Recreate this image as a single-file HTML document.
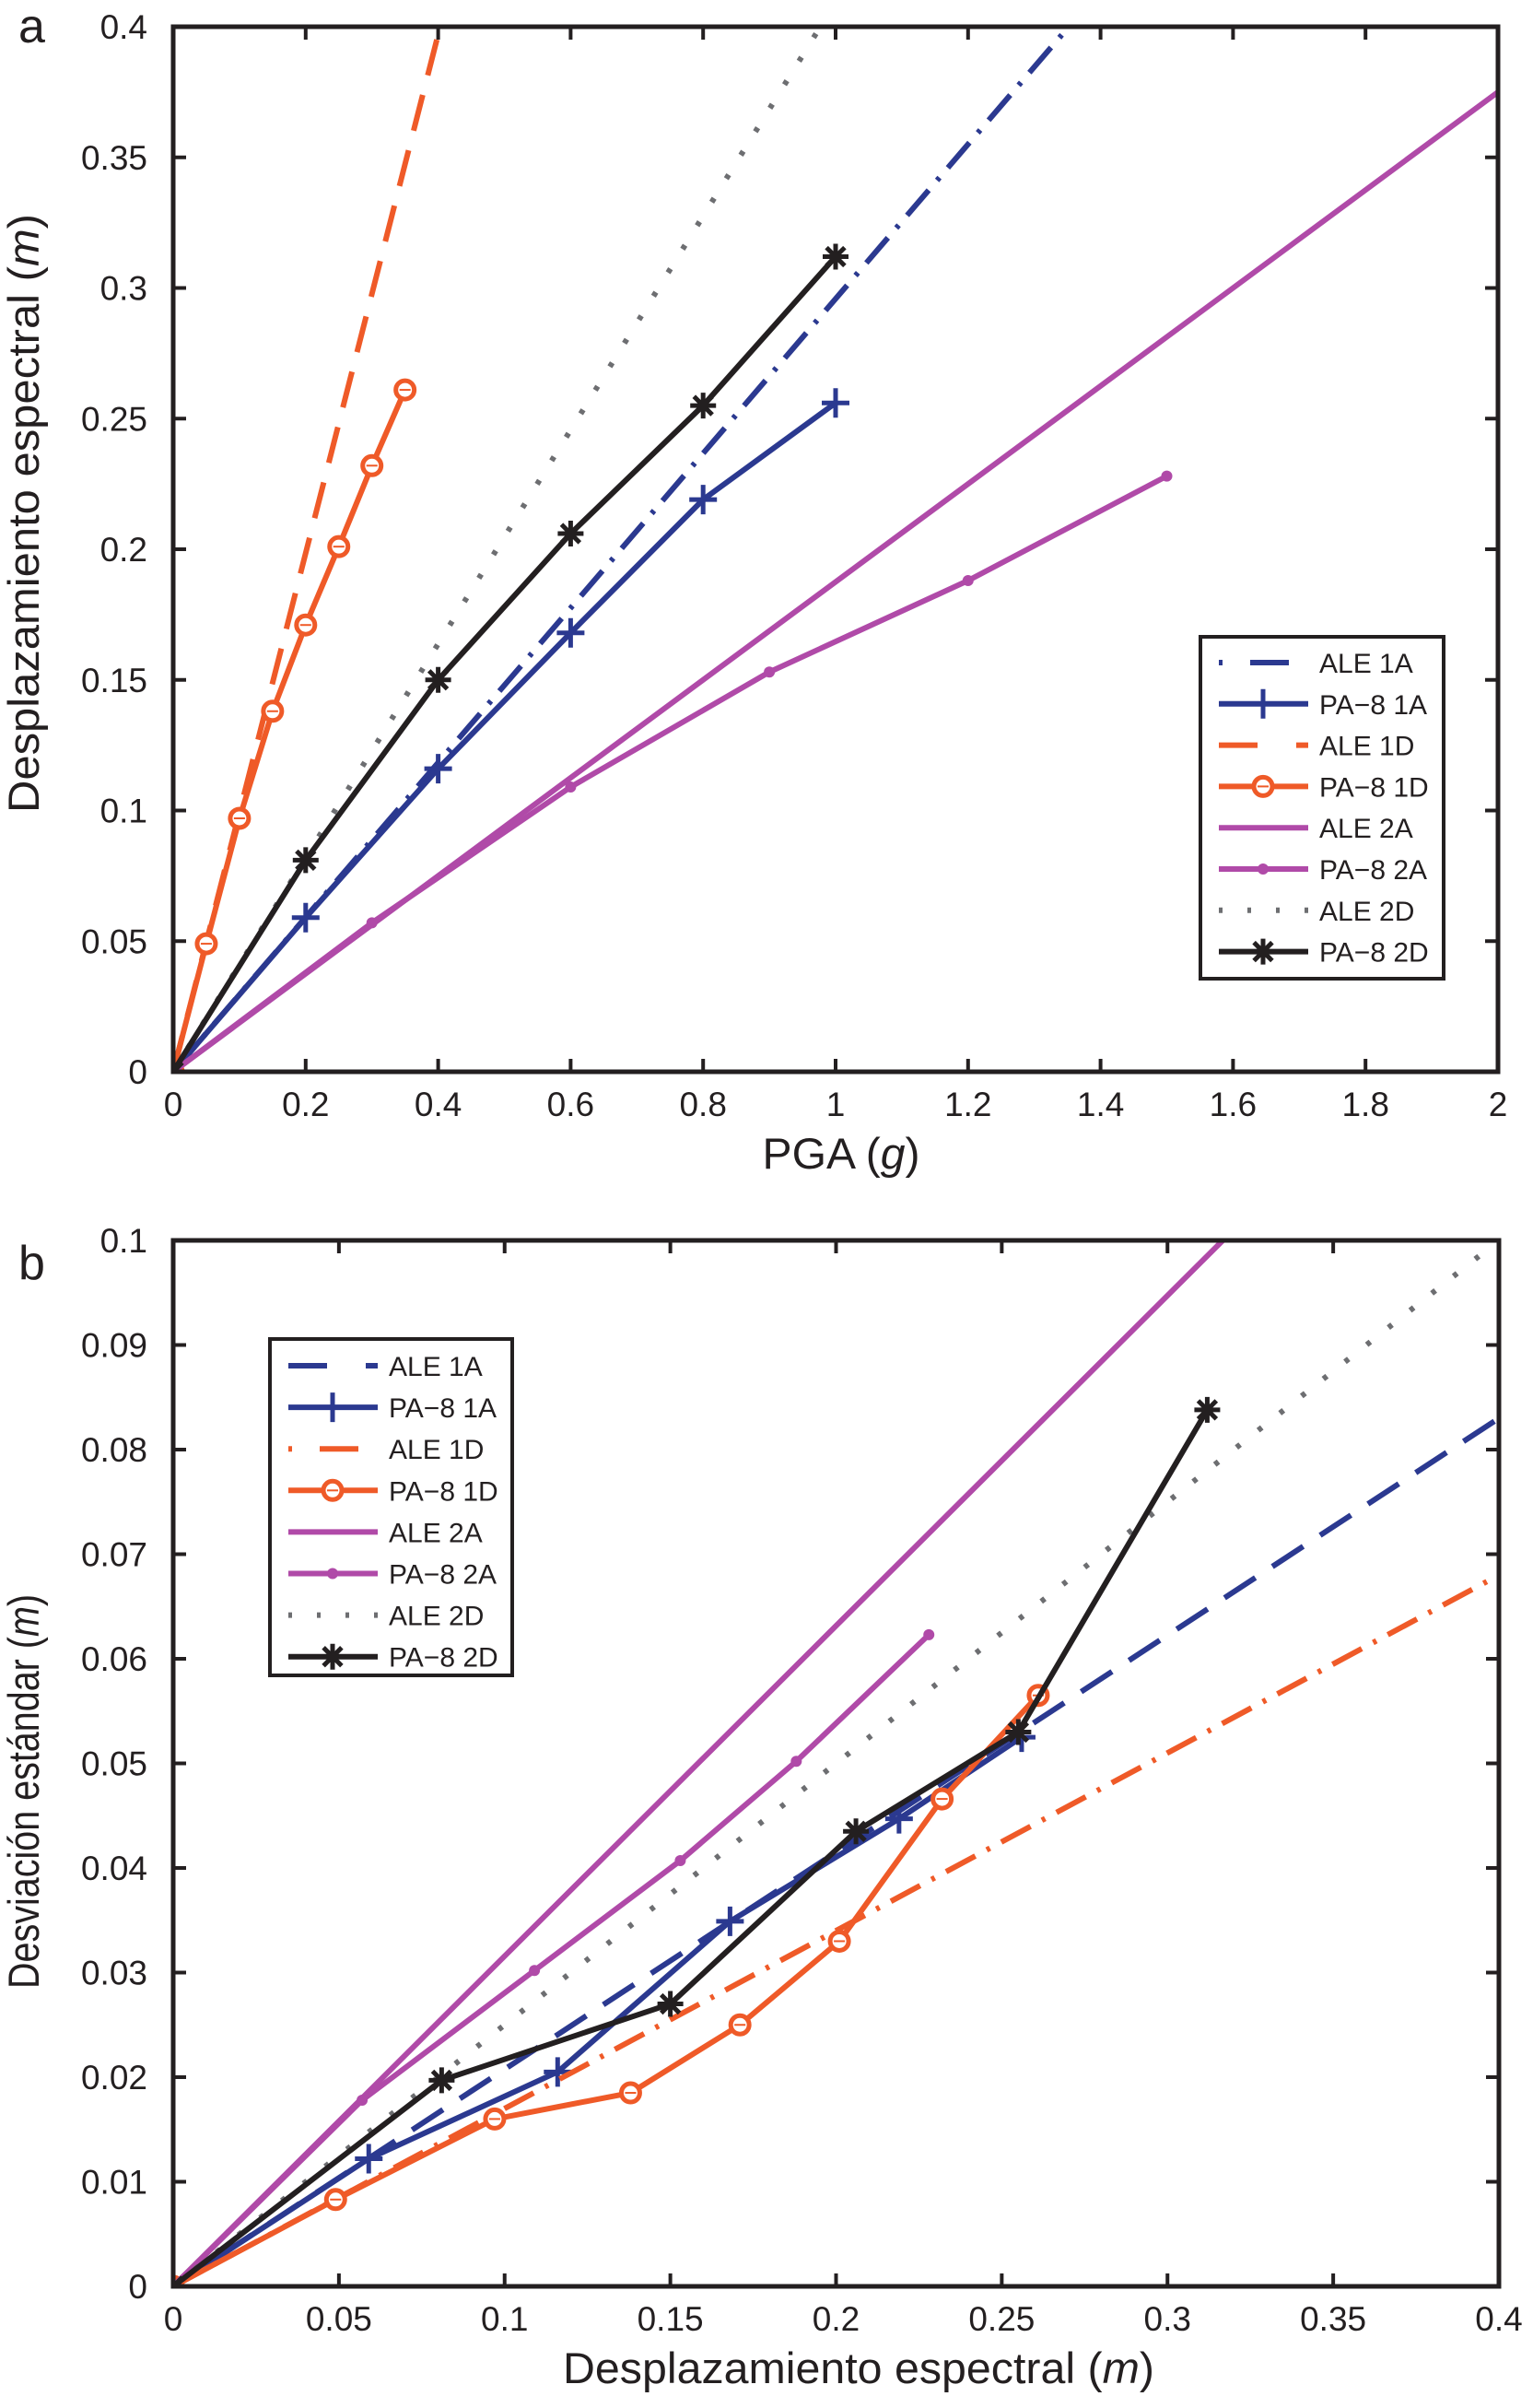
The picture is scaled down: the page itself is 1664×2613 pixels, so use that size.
<!DOCTYPE html>
<html><head><meta charset="utf-8"><style>
html,body{margin:0;padding:0;background:#fff}
svg{display:block;font-family:"Liberation Sans",Arial,sans-serif}
</style></head><body>
<svg id="fig" width="1664" height="2613" viewBox="0 0 1664 2613" xmlns="http://www.w3.org/2000/svg"></svg>
<script>
// ---- Panel a data ----
const aXTicks=[0,0.2,0.4,0.6,0.8,1,1.2,1.4,1.6,1.8,2];
const aXTickLabels=["0","0.2","0.4","0.6","0.8","1","1.2","1.4","1.6","1.8","2"];
const aYTicks=[0,0.05,0.1,0.15,0.2,0.25,0.3,0.35,0.4];
const aYTickLabels=["0","0.05","0.1","0.15","0.2","0.25","0.3","0.35","0.4"];
const aAle1A_x=[0,1.352], aAle1A_y=[0,0.4];
const aPa1A_x=[0,0.2,0.4,0.6,0.8,1], aPa1A_y=[0,0.059,0.116,0.168,0.219,0.256];
const aAle1D_x=[0,0.403], aAle1D_y=[0,0.4];
const aPa1D_x=[0,0.05,0.1,0.15,0.2,0.25,0.3,0.35], aPa1D_y=[0,0.049,0.097,0.138,0.171,0.201,0.232,0.261];
const aAle2A_x=[0,2], aAle2A_y=[0,0.375];
const aPa2A_x=[0,0.3,0.6,0.9,1.2,1.5], aPa2A_y=[0,0.057,0.109,0.153,0.188,0.228];
const aAle2D_x=[0,0.977], aAle2D_y=[0,0.4];
const aPa2D_x=[0,0.2,0.4,0.6,0.8,1], aPa2D_y=[0,0.081,0.150,0.206,0.255,0.312];
// ---- Panel b data ----
const bXTicks=[0,0.05,0.1,0.15,0.2,0.25,0.3,0.35,0.4];
const bXTickLabels=["0","0.05","0.1","0.15","0.2","0.25","0.3","0.35","0.4"];
const bYTicks=[0,0.01,0.02,0.03,0.04,0.05,0.06,0.07,0.08,0.09,0.1];
const bYTickLabels=["0","0.01","0.02","0.03","0.04","0.05","0.06","0.07","0.08","0.09","0.1"];
const bAle1A_x=[0,0.4], bAle1A_y=[0,0.083];
const bPa1A_x=[0,0.059,0.116,0.168,0.219,0.256], bPa1A_y=[0,0.0122,0.0205,0.0349,0.0447,0.0525];
const bAle1D_x=[0,0.4], bAle1D_y=[0,0.068];
const bPa1D_x=[0,0.049,0.097,0.138,0.171,0.201,0.232,0.261], bPa1D_y=[0,0.0083,0.016,0.0185,0.025,0.033,0.0466,0.0565];
const bAle2A_x=[0,0.3167], bAle2A_y=[0,0.1];
const bPa2A_x=[0,0.057,0.109,0.153,0.188,0.228], bPa2A_y=[0,0.0178,0.0302,0.0407,0.0502,0.0623];
const bAle2D_x=[0,0.4], bAle2D_y=[0,0.1];
const bPa2D_x=[0,0.081,0.150,0.206,0.255,0.312], bPa2D_y=[0,0.0197,0.027,0.0435,0.053,0.0838];
const legendLabels=["ALE 1A","PA\u22128 1A","ALE 1D","PA\u22128 1D","ALE 2A","PA\u22128 2A","ALE 2D","PA\u22128 2D"];

const NS="http://www.w3.org/2000/svg";
const svg=document.getElementById('fig');
function mk(tag,attrs,parent){const e=document.createElementNS(NS,tag);for(const k in attrs)e.setAttribute(k,attrs[k]);(parent||svg).appendChild(e);return e;}
const NAVY="#2b3990",OR="#ef5a28",MAG="#b04aa8",GR="#6d6e71",BK="#231f20";
const STY={
 ale1A_a:{c:NAVY,d:"36 14 4 14"}, ale1D_a:{c:OR,d:"40 22"},
 ale1A_b:{c:NAVY,d:"40 22"}, ale1D_b:{c:OR,d:"36 14 4 14"},
 ale2A:{c:MAG,d:""}, ale2D:{c:GR,d:"5 25"}
};
function marker(g,type,px,py,color){
  let m;
  if(type==='plus'){m=mk('path',{d:`M${px-15} ${py}H${px+15}M${px} ${py-16}V${py+16}`,stroke:color,'stroke-width':5,fill:'none'},g);}
  else if(type==='circle'){m=mk('circle',{cx:px,cy:py,r:10,stroke:color,'stroke-width':5,fill:'#fff'},g);mk('line',{x1:px-6,y1:py,x2:px+6,y2:py,stroke:color,'stroke-width':2},g);}
  else if(type==='dot'){m=mk('circle',{cx:px,cy:py,r:6,fill:color},g);}
  else {let d='';for(let i=0;i<4;i++){const a=i*Math.PI/4;d+=`M${px-14*Math.cos(a)} ${py-14*Math.sin(a)}L${px+14*Math.cos(a)} ${py+14*Math.sin(a)}`;}m=mk('path',{d:d,stroke:color,'stroke-width':5,fill:'none'},g);}
  
  
}
function panel(P){
  const g=mk('g',{});
  
  
  const sx=v=>P.L+(v-P.xmin)/(P.xmax-P.xmin)*(P.R-P.L);
  const sy=v=>P.B-(v-P.ymin)/(P.ymax-P.ymin)*(P.B-P.T);
  const clip=mk('clipPath',{id:P.name+'-clip'},g);
  mk('rect',{x:P.L,y:P.T,width:P.R-P.L,height:P.B-P.T},clip);
  const pg=mk('g',{'clip-path':`url(#${P.name}-clip)`},g);
  P.series.forEach(s=>{
    const pts=s.x.map((v,i)=>sx(v)+','+sy(s.y[i])).join(' ');
    const l=mk('polyline',{points:pts,fill:'none',stroke:s.c,'stroke-width':6,'stroke-dasharray':s.d||'','stroke-linejoin':'round'},pg);
    
    
    if(s.m) s.x.forEach((v,i)=>marker(pg,s.m,sx(v),sy(s.y[i]),s.c));
  });
  const box=mk('rect',{x:P.L,y:P.T,width:P.R-P.L,height:P.B-P.T,fill:'none',stroke:BK,'stroke-width':5},g);
  
  
  P.xt.forEach((v,i)=>{
    const x=sx(v);
    mk('line',{x1:x,y1:P.B,x2:x,y2:P.B-14,stroke:BK,'stroke-width':4},g);
    mk('line',{x1:x,y1:P.T,x2:x,y2:P.T+14,stroke:BK,'stroke-width':4},g);
    const t=mk('text',{x:x,y:P.B+48,'font-size':37,'text-anchor':'middle',fill:BK},g);
    t.textContent=P.xl[i];
    
    
  });
  P.yt.forEach((v,i)=>{
    const y=sy(v);
    mk('line',{x1:P.L,y1:y,x2:P.L+14,y2:y,stroke:BK,'stroke-width':4},g);
    mk('line',{x1:P.R,y1:y,x2:P.R-14,y2:y,stroke:BK,'stroke-width':4},g);
    const t=mk('text',{x:160,y:y+13,'font-size':37,'text-anchor':'end',fill:BK},g);
    t.textContent=P.yl[i];
    
    
  });
  const xt=mk('text',{x:P.xtx,y:P.xty,'font-size':47,'text-anchor':'middle',fill:BK,textLength:P.xlen,lengthAdjust:'spacingAndGlyphs'},g);
  xt.innerHTML=P.xtitle;
  
  
  const yt=mk('text',{x:0,y:0,'font-size':47,'text-anchor':'middle',fill:BK,textLength:P.ylen,lengthAdjust:'spacingAndGlyphs',transform:`translate(${P.ytx},${P.yty}) rotate(-90)`},g);
  yt.innerHTML=P.ytitle;
  
  
  const lt=mk('text',{x:20,y:P.lety,'font-size':52,fill:BK},g);
  lt.textContent=P.letter;
  
  
  const lg=mk('g',{},g);
  
  
  const Lb=P.leg;
  mk('rect',{x:Lb.x,y:Lb.y,width:Lb.w,height:Lb.h,fill:'#fff',stroke:BK,'stroke-width':4},lg);
  P.series.forEach((s,i)=>{
    const y=Lb.r0+i*Lb.dy;
    const e=mk('g',{},lg);
    
    
    mk('line',{x1:Lb.x+20,y1:y,x2:Lb.x+117,y2:y,stroke:s.c,'stroke-width':6,'stroke-dasharray':s.d?(s.d==='5 25'?'4 27':s.d==='40 22'?'42 42':'4 30 42 30'):''},e);
    if(s.m) marker(e,s.m,Lb.x+68,y,s.c);
    const t=mk('text',{x:Lb.x+129,y:y+11,'font-size':30,fill:BK},e);
    t.textContent=legendLabels[i];
  });
}
panel({name:'panel-a',letter:'a',lety:46,L:188,R:1626,T:29,B:1163,xmin:0,xmax:2,ymin:0,ymax:0.4,
 xt:aXTicks,xl:aXTickLabels,yt:aYTicks,yl:aYTickLabels,
 xtitle:'PGA (<tspan font-style="italic">g</tspan>)',xtx:913,xty:1268,xlen:171,
 ytitle:'Desplazamiento espectral (<tspan font-style="italic">m</tspan>)',ytx:42,yty:557,ylen:650,
 leg:{x:1303,y:691,w:264,h:371,r0:719,dy:44.8},
 series:[
  {id:'ale-1a',x:aAle1A_x,y:aAle1A_y,...STY.ale1A_a},
  {id:'pa8-1a',x:aPa1A_x,y:aPa1A_y,c:NAVY,m:'plus'},
  {id:'ale-1d',x:aAle1D_x,y:aAle1D_y,...STY.ale1D_a},
  {id:'pa8-1d',x:aPa1D_x,y:aPa1D_y,c:OR,m:'circle'},
  {id:'ale-2a',x:aAle2A_x,y:aAle2A_y,...STY.ale2A},
  {id:'pa8-2a',x:aPa2A_x,y:aPa2A_y,c:MAG,m:'dot'},
  {id:'ale-2d',x:aAle2D_x,y:aAle2D_y,...STY.ale2D},
  {id:'pa8-2d',x:aPa2D_x,y:aPa2D_y,c:BK,m:'star'}]});
panel({name:'panel-b',letter:'b',lety:1388,L:188,R:1627,T:1346,B:2481,xmin:0,xmax:0.4,ymin:0,ymax:0.1,
 xt:bXTicks,xl:bXTickLabels,yt:bYTicks,yl:bYTickLabels,
 xtitle:'Desplazamiento espectral (<tspan font-style="italic">m</tspan>)',xtx:932,xty:2586,xlen:642,
 ytitle:'Desviación estándar  (<tspan font-style="italic">m</tspan>)',ytx:42,yty:1944,ylen:428,
 leg:{x:293,y:1453,w:263,h:365,r0:1482,dy:45.1},
 series:[
  {id:'ale-1a',x:bAle1A_x,y:bAle1A_y,...STY.ale1A_b},
  {id:'pa8-1a',x:bPa1A_x,y:bPa1A_y,c:NAVY,m:'plus'},
  {id:'ale-1d',x:bAle1D_x,y:bAle1D_y,...STY.ale1D_b},
  {id:'pa8-1d',x:bPa1D_x,y:bPa1D_y,c:OR,m:'circle'},
  {id:'ale-2a',x:bAle2A_x,y:bAle2A_y,...STY.ale2A},
  {id:'pa8-2a',x:bPa2A_x,y:bPa2A_y,c:MAG,m:'dot'},
  {id:'ale-2d',x:bAle2D_x,y:bAle2D_y,...STY.ale2D},
  {id:'pa8-2d',x:bPa2D_x,y:bPa2D_y,c:BK,m:'star'}]});
</script>
</body></html>
